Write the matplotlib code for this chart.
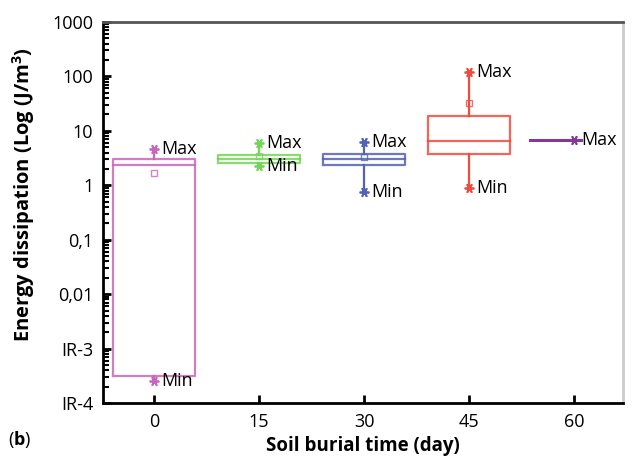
"""Energy dissipation vs soil burial time, box chart"""

import matplotlib.pyplot as plt
from matplotlib.ticker import LogLocator, NullFormatter

plt.rcParams['font.family'] = ['Open Sans', 'DejaVu Sans']
plt.rcParams['mathtext.fontset'] = 'custom'
plt.rcParams['mathtext.rm'] = 'Open Sans'
plt.rcParams['mathtext.bf'] = 'Open Sans:bold'

# Box statistics
days = [0, 15, 30, 45, 60]
q1 = [3.2e-4, 2.55, 2.4, 3.7, 6.7]
median = [2.4, 3.0, 3.0, 6.4, 6.7]
q3 = [3.1, 3.55, 3.7, 18.6, 6.7]
mean = [1.7, 3.4, 3.3, 33.0, 6.7]
vmin = [2.5e-4, 2.3, 0.74, 0.88, 6.7]
vmax = [4.6, 5.9, 6.2, 119.0, 6.7]
show_min = [True, True, True, True, False]
colors = ["#c866b8", "#74d456", "#5262b4", "#f24a3c", "#86389a"]

ytick_vals = [1e-4, 1e-3, 1e-2, 1e-1, 1, 10, 100, 1000]
ytick_labels = ["IR-4", "IR-3", "0,01", "0,1", "1", "10", "100", "1000"]

fig = plt.figure(figsize=(6.37, 4.63), dpi=100)
ax = fig.add_axes([0.1617, 0.1296, 0.8163, 0.8229])
ax.set_yscale("log")

half = 5.9   # half width of a box in days
star = (6, 2, 90)

for i, d in enumerate(days):
    c = colors[i]
    if q3[i] > q1[i]:
        # box outline and median
        ax.plot([d - half, d + half, d + half, d - half, d - half],
                [q1[i], q1[i], q3[i], q3[i], q1[i]], color=c, lw=1.6, alpha=0.85)
        ax.plot([d - half, d + half], [median[i], median[i]], color=c, lw=1.6, alpha=0.85)
        # whiskers
        ax.plot([d, d], [q3[i], vmax[i]], color=c, lw=1.6)
        ax.plot([d, d], [vmin[i], q1[i]], color=c, lw=1.6)
        ax.plot(d, mean[i], marker="s", ms=5, mfc="none", mec=c, mew=1.0, alpha=0.8)
    else:
        # collapsed box: just a flat line
        ax.plot([d - 6.3, d + 1.0], [median[i], median[i]], color=c, lw=2.2)
    ax.plot(d, vmax[i], marker=star, ms=7, color=c, mew=1.3)
    ax.annotate("Max", (d, vmax[i]), xytext=(5, 0), textcoords="offset points",
                va="center", ha="left", fontsize=13)
    if show_min[i]:
        ax.plot(d, vmin[i], marker=star, ms=7, color=c, mew=1.3)
        ax.annotate("Min", (d, vmin[i]), xytext=(5, 0), textcoords="offset points",
                    va="center", ha="left", fontsize=13)

ax.set_xlim(-7.3, 67)
ax.set_ylim(1e-4, 1000)
ax.set_xticks(days)
ax.set_yticks(ytick_vals)
ax.set_yticklabels(ytick_labels)
ax.yaxis.set_minor_locator(LogLocator(base=10, subs=range(2, 10), numticks=20))
ax.yaxis.set_minor_formatter(NullFormatter())
ax.tick_params(axis="both", which="major", direction="in", labelsize=13, width=2, length=6)
ax.tick_params(axis="y", which="minor", direction="in", width=1.5, length=4)
ax.tick_params(axis="x", pad=7)
ax.tick_params(axis="y", pad=7)

ax.spines["left"].set_linewidth(2)
ax.spines["bottom"].set_linewidth(2)
ax.spines["top"].set_linewidth(2)
ax.spines["top"].set_color("#555555")
ax.spines["right"].set_linewidth(2)
ax.spines["right"].set_color("#cccccc")

ax.set_xlabel("Soil burial time (day)", fontsize=13.5, fontweight="bold", labelpad=4)
ax.set_ylabel("Energy dissipation (Log (J/m$^\\mathbf{3}$)", fontsize=14.5,
              fontweight="bold")
ax.yaxis.set_label_coords(-0.127, 0.546)
fig.text(0.012, 0.038, "($\\mathbf{b}$)", fontsize=13, va="baseline")

fig.savefig("out.png", dpi=100)
